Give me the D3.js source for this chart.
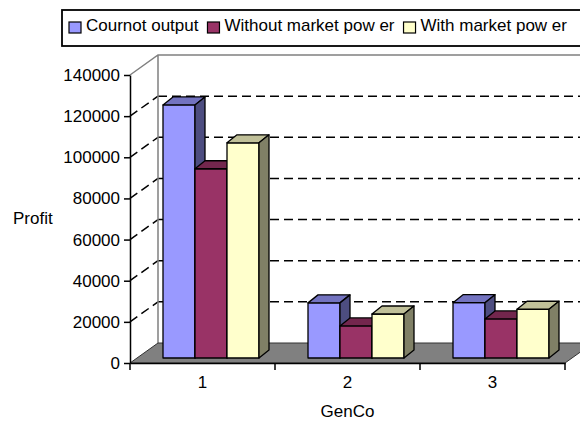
<!DOCTYPE html>
<html>
<head>
<meta charset="utf-8">
<script src="https://cdn.jsdelivr.net/npm/d3@7"></script>
<style>
  html, body { margin: 0; padding: 0; background: #ffffff; }
  svg { display: block; font-family: "Liberation Sans", Arial, sans-serif; }
</style>
</head>
<body>
<svg id="chart" width="580" height="423"></svg>
<script>
// ---- data ----
const categories = ["1", "2", "3"];
const seriesNames = ["Cournot output", "Without market pow er", "With market pow er"];
const cournotOutput = [123000, 26800, 26900];
const withoutMarketPower = [92000, 15600, 19000];
const withMarketPower = [104600, 21400, 23700];
const yTicks = [0, 20000, 40000, 60000, 80000, 100000, 120000, 140000];
const yTitle = "Profit";
const xTitle = "GenCo";

const seriesValues = [cournotOutput, withoutMarketPower, withMarketPower];
const frontColors = ["#9999ff", "#993366", "#ffffcc"];
const topColors = ["#7373c0", "#73264d", "#c0c099"];
const sideColors = ["#4d4d80", "#4d1a33", "#808066"];

// ---- layout ----
const svg = d3.select("#chart");
const left = 130, right = 565, bottom = 363, topY = 75;
const depth = { dx: 28, dy: -20 };       // back wall offset
const plane = { dx: 7, dy: -5 };         // bar front plane offset
const barDepth = { dx: 10, dy: -8 };     // bar thickness
const groupW = 96;

const y = d3.scaleLinear().domain([0, 140000]).range([bottom, topY]);
const x = d3.scaleBand().domain(categories).range([left, right]);
const xs = d3.scaleBand().domain(d3.range(seriesNames.length)).range([0, groupW]);

// walls
const bx = left + depth.dx, byTop = y(140000) + depth.dy, byBot = y(0) + depth.dy;
svg.append("polygon")
  .attr("points", [[bx, byTop], [600, byTop], [600, byBot], [bx, byBot]].map(p => p.join(",")).join(" "))
  .attr("fill", "#ffffff");
svg.append("polygon")
  .attr("points", [[left, y(140000)], [bx, byTop], [bx, byBot], [left, y(0)]].map(p => p.join(",")).join(" "))
  .attr("fill", "#ffffff");

// gridlines
const grid = svg.append("g");
yTicks.filter(v => v > 0 && v < 140000).forEach(v => {
  grid.append("line")
    .attr("x1", bx).attr("x2", 580).attr("y1", y(v) + depth.dy).attr("y2", y(v) + depth.dy)
    .attr("stroke", "#000").attr("stroke-width", 1.5).attr("stroke-dasharray", "9,5");
  grid.append("line")
    .attr("x1", left).attr("y1", y(v)).attr("x2", bx).attr("y2", y(v) + depth.dy)
    .attr("stroke", "#000").attr("stroke-width", 1.5).attr("stroke-dasharray", "9,5");
});
// wall borders (gray)
svg.append("path")
  .attr("d", `M${left},${y(140000)}L${bx},${byTop}L580,${byTop}M${bx},${byTop}L${bx},${byBot}`)
  .attr("fill", "none").attr("stroke", "#808080").attr("stroke-width", 1.5);

// floor
svg.append("polygon")
  .attr("points", [[left, y(0)], [right, y(0)], [right + depth.dx, byBot], [bx, byBot]].map(p => p.join(",")).join(" "))
  .attr("fill", "#808080").attr("stroke", "#333").attr("stroke-width", 1);

// bars
const bars = svg.append("g");
categories.forEach((c, ci) => {
  const gx = x(c) + x.bandwidth() / 2 - groupW / 2 + plane.dx + 1.5;
  seriesValues.forEach((vals, si) => {
    const v = vals[ci];
    const x0 = gx + xs(si), w = xs.bandwidth();
    const yt = y(v) + plane.dy, yb = y(0) + plane.dy;
    const g = bars.append("g").attr("stroke", "#000").attr("stroke-width", 1.3).attr("stroke-linejoin", "round");
    g.append("rect").attr("x", x0).attr("y", yt).attr("width", w).attr("height", yb - yt)
      .attr("fill", frontColors[si]);
    g.append("polygon")
      .attr("points", [[x0, yt], [x0 + w, yt], [x0 + w + barDepth.dx, yt + barDepth.dy], [x0 + barDepth.dx, yt + barDepth.dy]].map(p => p.join(",")).join(" "))
      .attr("fill", topColors[si]);
    g.append("polygon")
      .attr("points", [[x0 + w, yt], [x0 + w + barDepth.dx, yt + barDepth.dy], [x0 + w + barDepth.dx, yb + barDepth.dy], [x0 + w, yb]].map(p => p.join(",")).join(" "))
      .attr("fill", sideColors[si]);
  });
});

// y axis
const yAxis = svg.append("g").attr("transform", `translate(${left},0)`)
  .call(d3.axisLeft(y).tickValues(yTicks).tickFormat(d3.format("d")).tickSize(6).tickSizeOuter(0).tickPadding(4));
yAxis.select(".domain").attr("stroke", "#000").attr("stroke-width", 1.5);
yAxis.selectAll(".tick line").attr("stroke", "#000").attr("stroke-width", 1.5);
yAxis.selectAll(".tick text").attr("font-size", 17).attr("fill", "#000")
  .attr("font-family", "'Liberation Sans', Arial, sans-serif");

// x axis
const xAxis = svg.append("g").attr("transform", `translate(0,${bottom})`)
  .call(d3.axisBottom(x).tickSize(0).tickPadding(13));
xAxis.select(".domain").attr("stroke", "#000").attr("stroke-width", 1.5);
xAxis.selectAll(".tick text").attr("font-size", 17).attr("fill", "#000")
  .attr("font-family", "'Liberation Sans', Arial, sans-serif");
const bounds = categories.map(c => x(c)).concat([x(categories[categories.length - 1]) + x.bandwidth()]);
bounds.forEach(bv => {
  svg.append("line").attr("x1", bv).attr("x2", bv).attr("y1", bottom).attr("y2", bottom + 7)
    .attr("stroke", "#000").attr("stroke-width", 1.5);
});

// titles
svg.append("text").attr("x", 13).attr("y", 224).attr("font-size", 17).text(yTitle);
svg.append("text").attr("x", (left + right) / 2).attr("y", 417).attr("text-anchor", "middle")
  .attr("font-size", 17).text(xTitle);

// legend
const legend = svg.append("g");
legend.append("rect").attr("x", 62).attr("y", 10).attr("width", 530).attr("height", 36)
  .attr("fill", "#fff").attr("stroke", "#000").attr("stroke-width", 1.8);
let lx = 69;
seriesNames.forEach((name, i) => {
  legend.append("rect").attr("x", lx).attr("y", 22).attr("width", 12).attr("height", 11)
    .attr("fill", frontColors[i]).attr("stroke", "#000").attr("stroke-width", 1.2);
  const t = legend.append("text").attr("x", lx + 17).attr("y", 31).attr("font-size", 17).text(name);
  lx = lx + 17 + t.node().getComputedTextLength() + 9;
});
</script>
</body>
</html>
